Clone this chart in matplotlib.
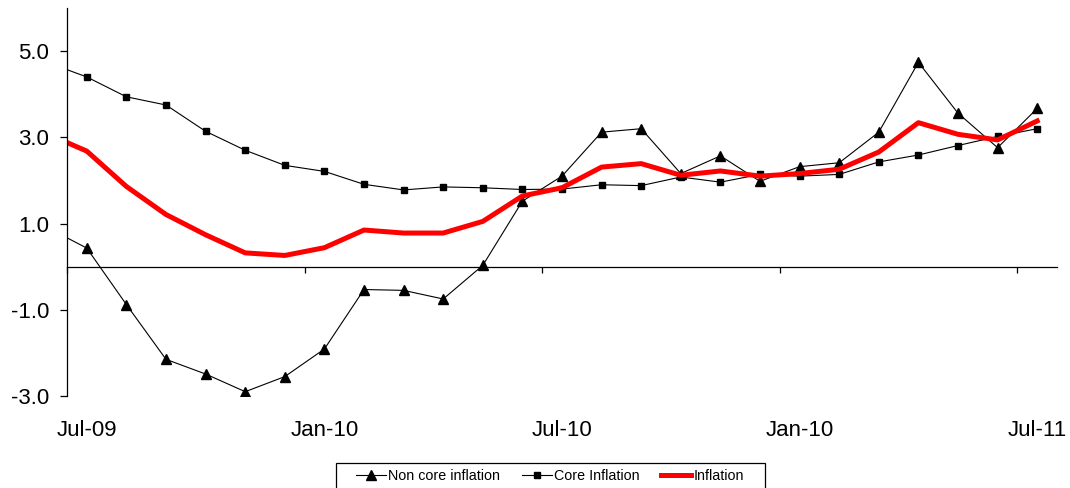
import matplotlib
matplotlib.use("Agg")
import matplotlib.pyplot as plt
from matplotlib.patches import Rectangle

plt.rcParams['font.family'] = ['Liberation Sans', 'DejaVu Sans']

# monthly series, Jun-09 .. Jul-11 (Jun-09 sits just left of the axis and is clipped)
months = ['Jun-09', 'Jul-09', 'Aug-09', 'Sep-09', 'Oct-09', 'Nov-09', 'Dec-09',
          'Jan-10', 'Feb-10', 'Mar-10', 'Apr-10', 'May-10', 'Jun-10',
          'Jul-10', 'Aug-10', 'Sep-10', 'Oct-10', 'Nov-10', 'Dec-10',
          'Jan-11', 'Feb-11', 'Mar-11', 'Apr-11', 'May-11', 'Jun-11', 'Jul-11']

non_core = [0.91, 0.43, -0.88, -2.15, -2.49, -2.90, -2.55, -1.91, -0.53, -0.55,
            -0.75, 0.03, 1.52, 2.10, 3.12, 3.20, 2.16, 2.57, 1.98, 2.32,
            2.41, 3.12, 4.74, 3.56, 2.76, 3.67]
core = [4.74, 4.40, 3.94, 3.75, 3.14, 2.70, 2.35, 2.21, 1.91, 1.78,
        1.85, 1.83, 1.79, 1.80, 1.90, 1.88, 2.08, 1.96, 2.14, 2.10,
        2.14, 2.43, 2.59, 2.81, 3.02, 3.20]
inflation = [3.08, 2.68, 1.86, 1.21, 0.74, 0.32, 0.26, 0.44, 0.85, 0.78,
             0.78, 1.05, 1.64, 1.83, 2.31, 2.39, 2.12, 2.22, 2.10, 2.16,
             2.26, 2.66, 3.34, 3.07, 2.94, 3.38]

tick_labels = ['Jul-09', 'Jan-10', 'Jul-10', 'Jan-10', 'Jul-11']
label_pos = [1, 7, 13, 19, 25]

x = list(range(len(months)))

fig = plt.figure(figsize=(10.70, 4.88), dpi=100)
ax = fig.add_axes([67 / 1070, 92 / 488, 990 / 1070, 388 / 488])

ax.plot(x, non_core, color='black', lw=0.8, marker='^', ms=6.5,
        label='Non core inflation')
ax.plot(x, core, color='black', lw=0.8, marker='s', ms=4.2,
        label='Core Inflation')
ax.plot(x, inflation, color='#ff0000', lw=3.6, solid_joinstyle='round',
        label='Inflation')

ax.set_xlim(0.5, 25.5)
ax.set_ylim(-3, 6)

for s in ['top', 'right']:
    ax.spines[s].set_visible(False)
ax.spines['bottom'].set_position(('data', 0))
ax.spines['left'].set_bounds(-3, 6)
for s in ['left', 'bottom']:
    ax.spines[s].set_color('black')
    ax.spines[s].set_linewidth(0.9)

ax.set_yticks([5, 3, 1, -1, -3])
ax.set_yticklabels(['5.0', '3.0', '1.0', '-1.0', '-3.0'])
ax.tick_params(axis='y', direction='out', length=5, width=0.9, pad=8,
               labelsize=16, colors='black')

ax.set_xticks([0.5, 6.5, 12.5, 18.5, 24.5])
ax.set_xticklabels([])
ax.tick_params(axis='x', direction='out', length=4.5, width=0.9, colors='black')

for pos, lab in zip(label_pos, tick_labels):
    ax.text(pos, -3.79, lab, ha='center', va='center', fontsize=16,
            clip_on=False)

# legend entries without frame, with a plain box drawn around them
leg = fig.legend(loc='center', bbox_to_anchor=(550 / 1070, 12 / 488),
                 ncol=3, fontsize=10.3, frameon=False,
                 handlelength=2.1, handletextpad=0.15, columnspacing=1.5,
                 borderpad=0, borderaxespad=0)
fig.patches.append(Rectangle((336 / 1070, -0.05), 429 / 1070, 0.05 + 25 / 488,
                             transform=fig.transFigure, fill=False,
                             edgecolor='black', linewidth=0.9))

fig.savefig('out.png', dpi=100)
